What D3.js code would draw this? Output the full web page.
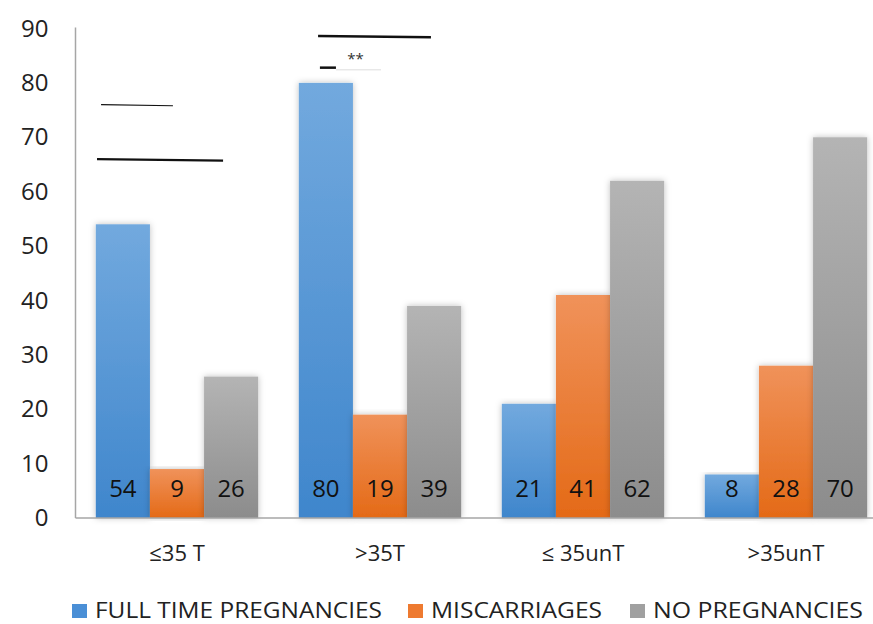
<!DOCTYPE html>
<html><head><meta charset="utf-8">
<script src="https://cdn.jsdelivr.net/npm/d3@7"></script>
<style>body{margin:0;background:#fff}svg{display:block}text{font-family:"Open Sans",sans-serif}</style>
</head><body>
<svg id="c" width="873" height="624"></svg>
<script>
const categories = ["≤35 T", ">35T", "≤ 35unT", ">35unT"];
const seriesNames = ["FULL TIME PREGNANCIES", "MISCARRIAGES", "NO PREGNANCIES"];
const fullTime = [54, 80, 21, 8];
const miscarriages = [9, 19, 41, 28];
const noPregnancies = [26, 39, 62, 70];
const yTicks = [0, 10, 20, 30, 40, 50, 60, 70, 80, 90];
// annotation lines: category index, start/end fraction of band, y value (data units)
const annoLines = [
  {cat:0, f0:0.126, f1:0.48, y0:76, y1:75.8, w:1.2, c:"#111"},
  {cat:0, f0:0.106, f1:0.727, y0:66, y1:65.7, w:2.2, c:"#111"},
  {cat:1, f0:0.195, f1:0.751, y0:88.6, y1:88.4, w:2.5, c:"#111"},
  {cat:1, f0:0.204, f1:0.283, y0:82.8, y1:82.8, w:2.5, c:"#111"},
  {cat:1, f0:0.283, f1:0.505, y0:82.4, y1:82.4, w:1, c:"#ddd"}
];
const annoTexts = [{cat:1, f:0.38, y:84.6, t:"**"}];

const series = [fullTime, miscarriages, noPregnancies];
const colors = [
  {top:"#72a9de", bot:"#3f86cc", key:"#4a8fd6"},
  {top:"#f0925a", bot:"#e46a17", key:"#ee7a30"},
  {top:"#b4b4b4", bot:"#8c8c8c", key:"#a0a0a0"}
];

const svg = d3.select("#c");
const plotBottom = 518;
const x0 = d3.scaleBand().domain(categories).range([75.5, 75.5 + 203*4]).paddingInner(0.2).paddingOuter(0.1);
const x1 = d3.scaleBand().domain([0,1,2]).range([0, x0.bandwidth()]);
const y = d3.scaleLinear().domain([0, 90]).range([plotBottom, 28.5]);

const defs = svg.append("defs");
colors.forEach((c,i)=>{
  const g = defs.append("linearGradient").attr("id","g"+i).attr("x1",0).attr("y1",0).attr("x2",0).attr("y2",1);
  g.append("stop").attr("offset","0%").attr("stop-color",c.top);
  g.append("stop").attr("offset","100%").attr("stop-color",c.bot);
});
const f = defs.append("filter").attr("id","sh").attr("x","-20%").attr("y","-5%").attr("width","140%").attr("height","110%");
f.append("feDropShadow").attr("dx",0).attr("dy",0).attr("stdDeviation",3).attr("flood-color","#000").attr("flood-opacity",0.25);

// axes
const yAxis = svg.append("g").attr("transform",`translate(75.5,0)`)
  .call(d3.axisLeft(y).tickValues(yTicks).tickSize(0).tickPadding(27));
yAxis.select(".domain").attr("stroke","#a6a6a6").attr("stroke-width",1.5).attr("d",`M0,${y(90)-1}V${plotBottom}`);
yAxis.selectAll("text").attr("font-size",24).attr("fill","#222").attr("font-family","'Open Sans',sans-serif");

// bars
categories.forEach((cat,ci)=>{
  const g = svg.append("g").attr("transform",`translate(${x0(cat)},0)`);
  series.forEach((s,si)=>{
    g.append("rect").attr("x",x1(si)).attr("y",y(s[ci])).attr("width",x1.bandwidth()).attr("height",y(0)-y(s[ci]))
      .attr("fill",`url(#g${si})`).attr("filter","url(#sh)");
  });
  series.forEach((s,si)=>{
    g.append("text").attr("x",x1(si)+x1.bandwidth()/2).attr("y",y(0)-21).attr("text-anchor","middle")
      .attr("font-size",24).attr("fill","#111").text(s[ci]);
  });
});

const xAxis = svg.append("g").attr("transform",`translate(0,${plotBottom})`)
  .call(d3.axisBottom(x0).tickSize(0).tickPadding(27));
xAxis.select(".domain").attr("stroke","#a6a6a6").attr("stroke-width",1.5).attr("d","M75.5,0H873");
xAxis.selectAll("text").attr("font-size",22).attr("fill","#222").attr("font-family","'Open Sans',sans-serif");

// annotations
annoLines.forEach(a=>{
  const bx = x0(categories[a.cat]) - x0.step()*x0.paddingOuter();
  svg.append("line").attr("x1",bx + a.f0*x0.step()).attr("x2",bx + a.f1*x0.step())
    .attr("y1",y(a.y0)).attr("y2",y(a.y1)).attr("stroke",a.c).attr("stroke-width",a.w);
});
annoTexts.forEach(a=>{
  const bx = x0(categories[a.cat]) - x0.step()*x0.paddingOuter();
  svg.append("text").attr("x",bx + a.f*x0.step()).attr("y",y(a.y)+6).attr("text-anchor","middle")
    .attr("font-size",15).attr("fill","#333").text(a.t);
});

// legend
const legendX = [72, 408, 630];
const legendW = [287, 171, 210];
const lg = svg.append("g");
seriesNames.forEach((n,i)=>{
  lg.append("rect").attr("x",legendX[i]).attr("y",604).attr("width",15).attr("height",14).attr("fill",colors[i].key);
  lg.append("text").attr("x",legendX[i]+23).attr("y",617.5).attr("font-size",22)
    .attr("textLength",legendW[i]).attr("lengthAdjust","spacingAndGlyphs").attr("fill","#222").text(n);
});
</script>
</body></html>
